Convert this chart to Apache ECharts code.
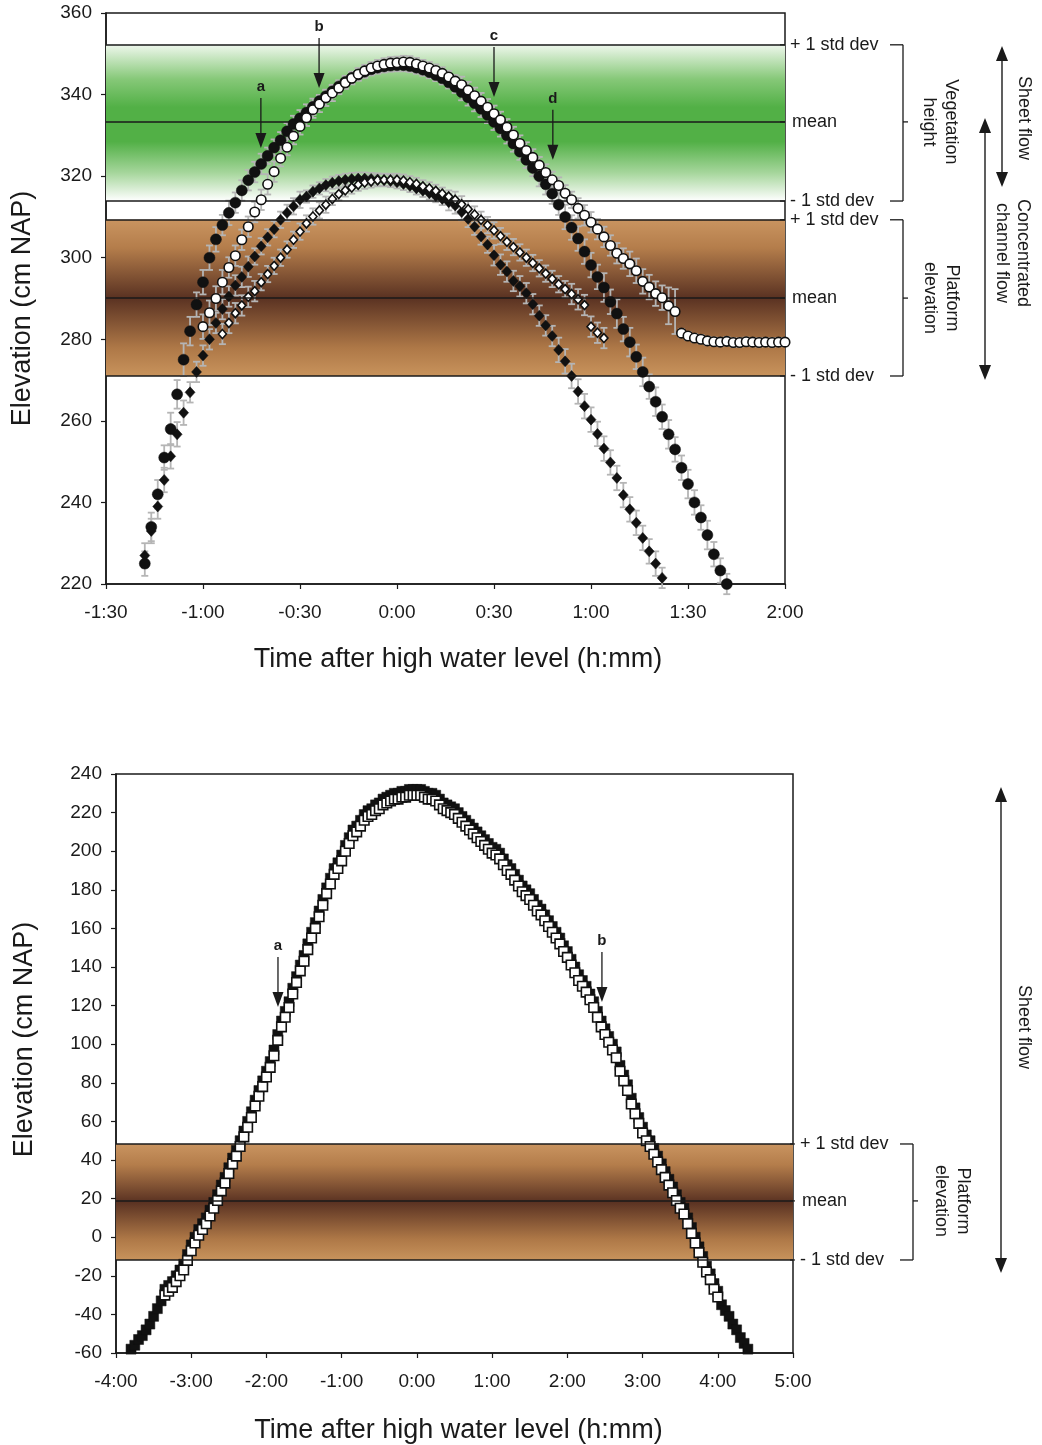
<!DOCTYPE html>
<html><head><meta charset="utf-8">
<script src="https://cdn.jsdelivr.net/npm/echarts/dist/echarts.min.js"></script>
<style>html,body{margin:0;padding:0;background:#fff}#c{width:1042px;height:1445px}</style>
</head><body><div id="c"></div>
<script>
// ---------- DATA (time in minutes after high water, elevation in cm NAP) ----------
// Top panel: filled circles
const fcT = [-78,-76,-74,-72,-70,-68,-66,-64,-62,-60,-58,-56,-54,-52,-50,-48,-46,-44,-42,-40,-38,-36,-34,-32,-30,-28,-26,-24,-22,-20,-18,-16,-14,-12,-10,-8,-6,-4,-2,0,2,4,6,8,10,12,14,16,18,20,22,24,26,28,30,32,34,36,38,40,42,44,46,48,50,52,54,56,58,60,62,64,66,68,70,72,74,76,78,80,82,84,86,88,90,92,94,96,98,100,102];
const fcY = [225,234,242,251,258,266.5,275,282,288.5,294, 300,304.5,308,311,313.5,316.5,319,321,323,325, 327,328.8,331,332.8,334.2,335.6,337,338.4,339.6,340.8, 342,343.1,344.1,344.9,345.6,346.2,346.6,346.9,347.1,347.2, 347.2,347,346.6,346.1,345.5,344.8,344,343,341.9,340.6, 339.3,337.9,336.5,335,333.3,331.7,330,328,326,324, 322,320,318,315.7,313,310,307.4,304.7,301.5,298.2, 295.3,292.7,289.2,286.3,282.5,279.3,275.7,272,268.4,264.7, 261,256.7,253,248.5,244.5,240,236.3,232,227.3,223.3, 220];
const fcE = [3,3.5,3.5,3,4,3.5,4,3.5,3,3, 3,3,2.5,3,2.5,2.5,2.5,2.5,2.5,2, 2,2,2,2,2,2,2,1.5,1.5,1.5, 1.5,1.5,1.5,1.5,1.5,1.5,1.5,1.5,1.5,1.5, 1.5,1.5,1.5,1.5,1.5,1.5,1.5,1.5,1.5,2, 2,2,2,2,2,2,2,2,2,2, 2,2.5,2.5,2.5,2.5,3,3,3,3,3, 3,3.5,3,3.5,3,3.5,3,3.5,3,3.5, 3,3.5,3,3,3.5,3,3,3.5,3,3, 2.5];
// Top panel: open circles
const ocT = [-60,-58,-56,-54,-52,-50,-48,-46,-44,-42,-40,-38,-36,-34,-32,-30,-28,-26,-24,-22,-20,-18,-16,-14,-12,-10,-8,-6,-4,-2,0,2,4,6,8,10,12,14,16,18,20,22,24,26,28,30,32,34,36,38,40,42,44,46,48,50,52,54,56,58,60,62,64,66,68,70,72,74,76,78,80,82,84,86,88,90,92,94,96,98,100,102,104,106,108,110,112,114,116,118,120];
const ocY = [283.1,286.5,290,294,297.6,300.5,304.4,307.6,311.2,314.2, 318,321.1,324.4,327.1,329.8,332.2,334.3,336.3,337.7,339.2, 340.4,341.6,342.9,344,345,345.8,346.5,347,347.4,347.7, 347.8,348,347.9,347.5,347,346.5,345.9,345.2,344.3,343.3, 342.4,341.1,339.7,338.4,336.9,335.3,333.8,332,330.1,328, 326.3,324.6,322.7,320.9,319.1,317.7,315.8,314.2,312.1,310.4, 308.7,307,305.1,303,301.1,299.8,298.5,296.8,294.2,292.8, 291.2,290.2,288.2,286.8,281.5,280.8,280.3,280,279.6,279.4, 279.3,279.5,279.2,279.2,279.4,279.3,279.2,279.3,279.2,279.3, 279.3];
const ocE = [3,3,3,3,2.5,2.5,2.5,2.5,2.5,2.5, 2.5,2.5,2,2,2,2,2,2,2,2, 2,1.5,1.5,1.5,1.5,1.5,1.5,1.5,1.5,1.5, 1.5,1.5,1.5,1.5,1.5,1.5,1.5,1.5,1.5,1.5, 2,2,2,2,2,2,2,2,2,2, 2,2,2,2,2,2,2,2,2.5,2.5, 2.5,2.5,2.5,2.5,2.5,2.5,3,3,3,3, 3,3,4.5,5.5,1,1,1,1,1,1, 1,1,1,1,1,1,1,1,1,1, 1];
// Top panel: filled diamonds
const fdT = [-78,-76,-74,-72,-70,-68,-66,-64,-62,-60,-58,-56,-54,-52,-50,-48,-46,-44,-42,-40,-38,-36,-34,-32,-30,-28,-26,-24,-22,-20,-18,-16,-14,-12,-10,-8,-6,-4,-2,0,2,4,6,8,10,12,14,16,18,20,22,24,26,28,30,32,34,36,38,40,42,44,46,48,50,52,54,56,58,60,62,64,66,68,70,72,74,76,78,80,82];
const fdY = [227,233,239,245.5,251.3,256.7,262,267,272,276, 280,284,287.4,290.5,293.2,295.3,297.8,300.3,302.8,305, 307,309.3,311,312.6,314.2,315,316.2,317,317.8,318.4, 318.8,319.1,319.3,319.4,319.4,319.3,319.2,319,318.8,318.5, 318.1,317.6,317,316.4,315.8,315.1,314.4,313.6,312.8,311.2, 309.5,307.6,305.2,303.2,300.6,298.3,296.6,294.3,293,291.3, 288.6,285.8,283.4,280.8,277.4,274.6,271,267.2,263.6,260.3, 256.8,253.2,249.8,246,241.8,238.3,235,231.3,228,225, 221.5];
const fdE = [3,3,3,3,3,3,3,2.5,2.5,2.5, 2.5,2.5,2.5,2.5,2.5,2.5,2.5,2,2,2, 2,2,2,2,2,1.5,1.5,1.5,1.5,1.5, 1.5,1.5,1.5,1.5,1.5,1.5,1.5,1.5,1.5,1.5, 1.5,1.5,1.5,1.5,1.5,1.5,1.5,2,2,2, 2,2,2,2,2.5,2.5,2.5,2.5,2.5,2.5, 2.5,2.5,2.5,2.5,3,3,3,3,3,3, 3,3,3,3,3,3,3,3,3,3, 2.5];
// Top panel: open diamonds
const odT = [-54,-52,-50,-48,-46,-44,-42,-40,-38,-36,-34,-32,-30,-28,-26,-24,-22,-20,-18,-16,-14,-12,-10,-8,-6,-4,-2,0,2,4,6,8,10,12,14,16,18,20,22,24,26,28,30,32,34,36,38,40,42,44,46,48,50,52,54,56,58,60,62,64];
const odY = [281.3,284,286.4,288.3,290.4,291.8,294,296,298,300, 302,304.4,306.4,308.4,310.1,311.6,313,314.4,315.6,316.5, 317.2,317.9,318.4,318.7,319,319.1,319.1,319.1,318.9,318.5, 318.1,317.5,317,316.4,315.7,315,314.2,313.1,311.9,310.6, 309.3,308,306.7,305.3,303.9,302.6,301.3,300,298.7,297.4, 296.1,294.8,293.5,292.3,291.1,289.8,288.4,283.1,281.6,280.3];
const odE = [2.5,2.5,2.5,2.5,2.5,2.5,2,2,2,2, 2,2,2,2,2,2,2,1.5,1.5,1.5, 1.5,1.5,1.5,1.5,1.5,1.5,1.5,1.5,1.5,1.5, 1.5,1.5,1.5,1.5,1.5,1.5,2,2,2,2, 2,2,2,2,2,2,2,2,2,2, 2,2,2,2,2.5,2.5,2.5,2.5,2.5,2.5];
// Top panel reference levels (mean and +/- 1 std dev)
const vegLevels = [352.2, 333.3, 313.9];
const platTopLevels = [309.3, 290.1, 271.0];

// Bottom panel
const bTime = [-228,-225,-222,-219,-216,-213,-210,-207,-204,-201,-198,-195,-192,-189,-186,-183,-180,-177,-174,-171,-168,-165,-162,-159,-156,-153,-150,-147,-144,-141,-138,-135,-132,-129,-126,-123,-120,-117,-114,-111,-108,-105,-102,-99,-96,-93,-90,-87,-84,-81,-78,-75,-72,-69,-66,-63,-60,-57,-54,-51,-48,-45,-42,-39,-36,-33,-30,-27,-24,-21,-18,-15,-12,-9,-6,-3,0,3,6,9,12,15,18,21,24,27,30,33,36,39,42,45,48,51,54,57,60,63,66,69,72,75,78,81,84,87,90,93,96,99,102,105,108,111,114,117,120,123,126,129,132,135,138,141,144,147,150,153,156,159,162,165,168,171,174,177,180,183,186,189,192,195,198,201,204,207,210,213,216,219,222,225,228,231,234,237,240,243,246,249,252,255,258,261,264];
const bOpen = [null,null,null,null,null,null,null,null,null,-30, -28,-26,-23,-20,-17,-12,-7,-3,1,4, 7,11,15,19,24,28,33,38,42,47, 52,57,62,68,73,78,83,88,94,102, 109,114,119,126,132,138,143,149,155,160, 166,172,178,183,188,191,195,200,204,208, 210,213,216,218,219,221,222,224,225,226, 227,227,228,228,229,229,229,229,228,227, 227,226,224,222,221,220,219,217,215,213, 211,209,207,205,203,201,199,198,196,193, 190,188,185,182,179,177,175,172,169,167, 164,161,158,155,152,148,145,141,137,133, 130,127,123,119,114,109,105,101,97,93, 86,81,76,69,64,59,54,50,47,43, 39,35,31,27,23,19,15,12,7,2, -3,-8,-13,-18,-22,-27,-31,null,null,null, null,null,null,null,null];
const bFilled = [-58,-56,-53,-51,-48,-45,-41,-37,-33,-27, -25,-23,-20,-17,-14,-9,-4,0,4,7, 10,14,18,22,27,31,36,41,45,50, 55,60,65,71,76,81,86,91,97,105, 112,117,122,129,135,141,146,152,158,163, 169,175,181,186,191,194,198,203,207,211, 213,216,219,221,222,224,225,227,228,229, 230,230,231,231,232,232,232,232,231,230, 230,229,227,225,224,223,222,220,218,216, 214,212,210,208,206,204,202,201,199,196, 193,191,188,185,182,180,178,175,172,170, 167,164,161,158,155,151,148,144,140,136, 133,130,126,122,117,112,108,104,100,96, 89,84,79,72,67,62,57,53,50,46, 42,38,34,30,26,22,18,15,10,5, 0,-5,-10,-15,-19,-24,-28,-35,-38,-41, -45,-48,-52,-55,-58];
const platBotLevels = [48.3, 18.8, -11.8];

const levelLabels = ['+ 1 std dev', 'mean', '- 1 std dev'];

// ---------- CHART ----------
const FONT = "'Liberation Sans', Arial, Helvetica, sans-serif";
const INK = '#1a1a1a';
function fmt(v){ const s = v<0?'-':''; const a=Math.abs(v); const h=Math.floor(a/60), m=Math.round(a%60); return s+h+':'+(m<10?'0':'')+m; }
function pairs(T, Y){ const out=[]; T.forEach((t,i)=>{ if(Y[i]!==null) out.push([t,Y[i]]); }); return out; }
function errData(T, Y, E){ return T.map((t,i)=>[t, Y[i]-E[i], Y[i]+E[i]]); }

const green = {type:'linear',x:0,y:0,x2:0,y2:1,colorStops:[
  {offset:0,color:'#eef7ec'},{offset:0.22,color:'#86c878'},{offset:0.4,color:'#52b046'},
  {offset:0.62,color:'#52b046'},{offset:0.82,color:'#a6d69c'},{offset:1,color:'#ffffff'}]};
const brown = {type:'linear',x:0,y:0,x2:0,y2:1,colorStops:[
  {offset:0,color:'#c99460'},{offset:0.18,color:'#b47d4b'},{offset:0.5,color:'#5a3222'},
  {offset:0.82,color:'#ae7847'},{offset:1,color:'#c8935c'}]};

function errSeries(ai, data){
  return {type:'custom', xAxisIndex:ai, yAxisIndex:ai, z:2, silent:true, clip:false,
    encode:{x:0, y:[1,2]}, data,
    renderItem(params, api){
      const x=api.value(0), lo=api.value(1), hi=api.value(2);
      const a=api.coord([x,hi]), b=api.coord([x,lo]); const w=3.5;
      const st={stroke:'#b5b5b5', lineWidth:1.8};
      return {type:'group', children:[
        {type:'line', shape:{x1:a[0],y1:a[1],x2:b[0],y2:b[1]}, style:st},
        {type:'line', shape:{x1:a[0]-w,y1:a[1],x2:a[0]+w,y2:a[1]}, style:st},
        {type:'line', shape:{x1:b[0]-w,y1:b[1],x2:b[0]+w,y2:b[1]}, style:st}]};
    }};
}
function bandSeries(ai, areas, levels){
  return {type:'scatter', xAxisIndex:ai, yAxisIndex:ai, z:1, silent:true, data:[],
    markArea:{silent:true, data: areas.map(a=>[{yAxis:a[0], itemStyle:{color:a[2], opacity:1}},{yAxis:a[1]}])},
    markLine:{silent:true, symbol:'none', label:{show:false}, animation:false,
      lineStyle:{color:INK, type:'solid', width:1.5}, data: levels.map(v=>({yAxis:v}))}};
}
const axisBase = {
  axisLine:{show:true, onZero:false, lineStyle:{color:INK, width:1.5}},
  axisTick:{show:true, inside:false, length:5, lineStyle:{color:INK, width:1.2}},
  splitLine:{show:false}
};
function xAx(gi,min,max,intv,gap,pad){ return Object.assign({}, axisBase, {type:'value', gridIndex:gi, min, max, interval:intv,
  axisLabel:{color:INK, fontSize:19, fontFamily:FONT, margin:19, formatter:fmt},
  name:'Time after high water level (h:mm)', nameLocation:'middle', nameGap:gap,
  nameTextStyle:{color:INK, fontSize:27, fontFamily:FONT, padding:pad}}); }
function yAx(gi,min,max,gap,pad){ return Object.assign({}, axisBase, {type:'value', gridIndex:gi, min, max, interval:20,
  axisLabel:{color:INK, fontSize:19, fontFamily:FONT, margin:14},
  name:'Elevation (cm NAP)', nameLocation:'middle', nameGap:gap, nameRotate:90,
  nameTextStyle:{color:INK, fontSize:27, fontFamily:FONT, padding:pad}}); }

const chart = echarts.init(document.getElementById('c'));
chart.setOption({
  animation:false, backgroundColor:'#ffffff',
  grid:[
    {left:106, top:13, width:679, height:571, show:true, borderColor:INK, borderWidth:1.5, backgroundColor:'rgba(0,0,0,0)'},
    {left:116, top:774, width:677, height:579, show:true, borderColor:INK, borderWidth:1.5, backgroundColor:'rgba(0,0,0,0)'}],
  xAxis:[xAx(0,-90,120,30,62,[0,0,0,25]), xAx(1,-240,300,60,64,[0,0,0,8])],
  yAxis:[yAx(0,220,360,70,[0,20,0,0]), yAx(1,-60,240,78,[0,0,0,48])],
  series:[
    bandSeries(0, [[vegLevels[2],vegLevels[0],green],[platTopLevels[2],platTopLevels[0],brown]], vegLevels.concat(platTopLevels)),
    errSeries(0, errData(fdT,fdY,fdE)), errSeries(0, errData(odT,odY,odE)),
    errSeries(0, errData(fcT,fcY,fcE)), errSeries(0, errData(ocT,ocY,ocE)),
    {type:'scatter', xAxisIndex:0, yAxisIndex:0, z:3, data:pairs(fdT,fdY), symbol:'diamond', symbolSize:[10,11],
      itemStyle:{color:'#111', borderColor:'#111', borderWidth:0.5, opacity:1}},
    {type:'scatter', xAxisIndex:0, yAxisIndex:0, z:4, data:pairs(odT,odY), symbol:'diamond', symbolSize:[8,9],
      itemStyle:{color:'#fff', borderColor:'#111', borderWidth:1.6, opacity:1}},
    {type:'scatter', xAxisIndex:0, yAxisIndex:0, z:5, data:pairs(fcT,fcY), symbol:'circle', symbolSize:11,
      itemStyle:{color:'#111', borderColor:'#111', borderWidth:0.5, opacity:1}},
    {type:'scatter', xAxisIndex:0, yAxisIndex:0, z:6, data:pairs(ocT,ocY), symbol:'circle', symbolSize:9.5,
      itemStyle:{color:'#fff', borderColor:'#111', borderWidth:1.6, opacity:1}},
    bandSeries(1, [[platBotLevels[2],platBotLevels[0],brown]], platBotLevels),
    {type:'scatter', xAxisIndex:1, yAxisIndex:1, z:3, data:pairs(bTime,bFilled), symbol:'rect', symbolSize:10,
      itemStyle:{color:'#111', borderColor:'#111', borderWidth:0.5, opacity:1}},
    {type:'scatter', xAxisIndex:1, yAxisIndex:1, z:4, data:pairs(bTime,bOpen), symbol:'rect', symbolSize:9.5,
      itemStyle:{color:'#fff', borderColor:'#111', borderWidth:1.6, opacity:1}}
  ]
});

// ---------- ANNOTATIONS ----------
const G = [];
const P = (ai,x,y) => chart.convertToPixel({xAxisIndex:ai, yAxisIndex:ai}, [x,y]);
function ln(x1,y1,x2,y2,w){ G.push({type:'line', silent:true, z:100, shape:{x1,y1,x2,y2}, style:{stroke:INK, lineWidth:w||1.3}}); }
function head(x,y,dir,w,l){ G.push({type:'polygon', silent:true, z:100, shape:{points:[[x,y],[x-w/2,y-dir*l],[x+w/2,y-dir*l]]}, style:{fill:INK}}); }
function tx(x,y,s,o){ o=o||{}; G.push({type:'text', silent:true, z:100, x, y, rotation:o.rot||0,
  style:{text:s, fill:INK, font:(o.bold?'bold ':'')+(o.size||18)+'px '+FONT, align:o.align||'left', verticalAlign:'middle', lineHeight:o.lh||22}}); }
function letterArrow(ai, x, y, s){ const p=P(ai,x,y); ln(p[0],p[1]-50,p[0],p[1]-8,1.3); head(p[0],p[1],1,11,15); tx(p[0],p[1]-61,s,{bold:true,size:15,align:'center'}); }
function dblArrow(x,y1,y2){ ln(x,y1+10,x,y2-10,1.4); head(x,y1,-1,12,15); head(x,y2,1,12,15); }
function bracket(xr, levels, ai, labelX, edgeX, text){
  const ys = levels.map(v=>P(ai,0,v)[1]);
  levels.forEach((v,i)=>{ ln(edgeX-5, ys[i], edgeX, ys[i], 1.2); tx(edgeX+5+(i===1?2:0), ys[i], levelLabels[i]); });
  ln(xr-13,ys[0],xr,ys[0]); ln(xr,ys[0],xr,ys[2]); ln(xr-13,ys[2],xr,ys[2]); ln(xr,ys[1],xr+5,ys[1]);
  tx(labelX, ys[1], text, {rot:-Math.PI/2, align:'center'});
}
const r0 = P(0,120,300)[0], r1 = P(1,300,0)[0];
bracket(903, vegLevels, 0, 940, r0, 'Vegetation\nheight');
bracket(903, platTopLevels, 0, 941, r0, 'Platform\nelevation');
bracket(913, platBotLevels, 1, 952, r1 + 2, 'Platform\nelevation');
dblArrow(1002, 46, 187);
tx(1024, 118, 'Sheet flow', {rot:-Math.PI/2, align:'center'});
dblArrow(985, 118, 380);
tx(1012, 253, 'Concentrated\nchannel flow', {rot:-Math.PI/2, align:'center', lh:21});
dblArrow(1001, 787, 1273);
tx(1024, 1027, 'Sheet flow', {rot:-Math.PI/2, align:'center'});
letterArrow(0, -42.1, 326.9, 'a');
letterArrow(0, -24.1, 341.6, 'b');
letterArrow(0, 30.0, 339.4, 'c');
letterArrow(0, 48.2, 324.0, 'd');
letterArrow(1, -110.8, 119.3, 'a');
letterArrow(1, 147.6, 121.9, 'b');
chart.setOption({graphic: G});
</script></body></html>
